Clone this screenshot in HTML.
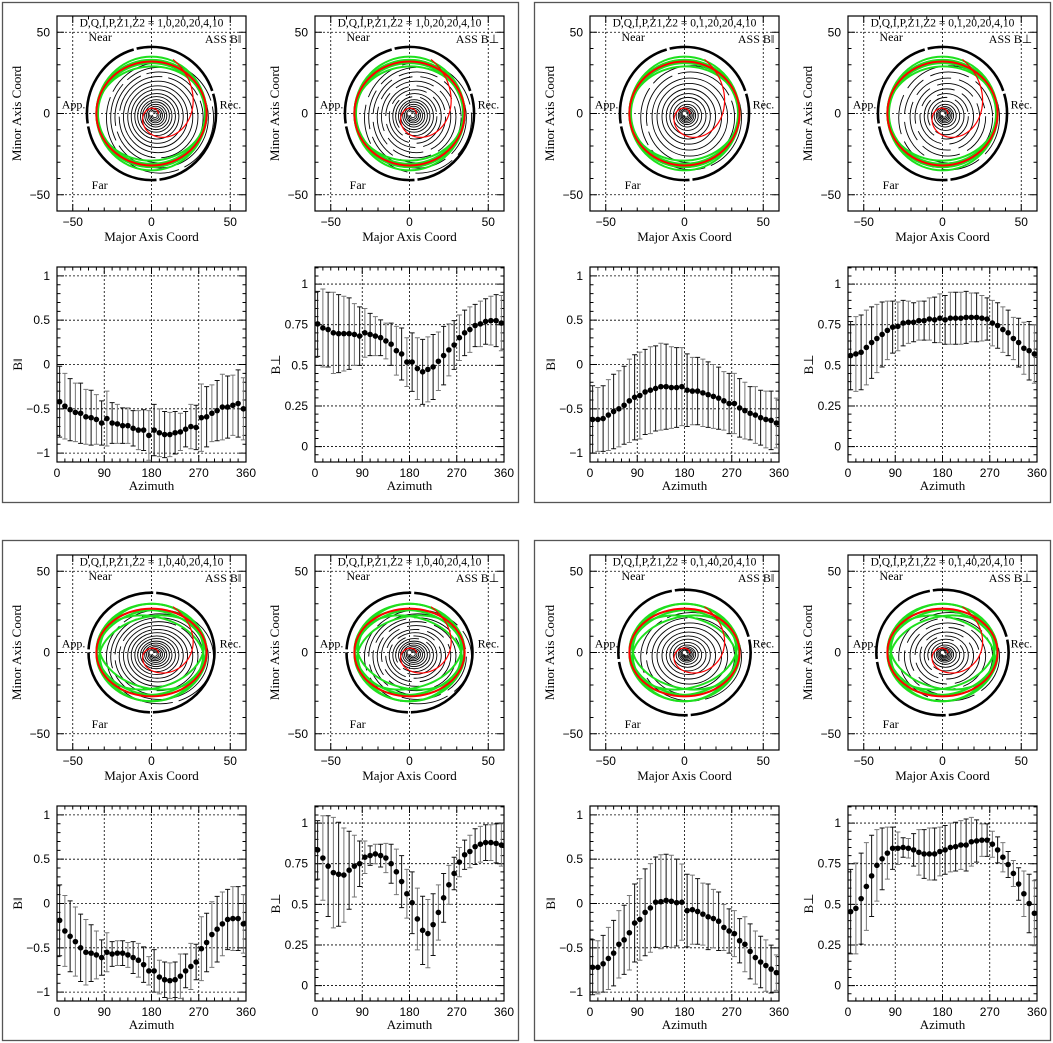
<!DOCTYPE html>
<html><head><meta charset="utf-8"><style>
html,body{margin:0;padding:0;background:#fff}
svg{display:block}
text{font-family:"Liberation Serif",serif;fill:#000}
.tk{font-family:"Liberation Sans",sans-serif;font-size:12px}
</style></head><body>
<svg id="fig" width="1053" height="1043" viewBox="0 0 1053 1043" xmlns="http://www.w3.org/2000/svg"></svg>
<script>
const azimuths=[5,15,25,35,45,55,65,75,85,95,105,115,125,135,145,155,165,175,185,195,205,215,225,235,245,255,265,275,285,295,305,315,325,335,345,355];
const serA=[-0.42,-0.47,-0.51,-0.54,-0.55,-0.59,-0.60,-0.62,-0.66,-0.61,-0.66,-0.67,-0.69,-0.69,-0.72,-0.74,-0.74,-0.80,-0.74,-0.77,-0.79,-0.79,-0.77,-0.76,-0.73,-0.70,-0.71,-0.60,-0.59,-0.55,-0.52,-0.48,-0.48,-0.46,-0.44,-0.50];
const errA=[0.40,0.37,0.35,0.33,0.34,0.31,0.31,0.28,0.25,0.31,0.23,0.22,0.2,0.2,0.2,0.22,0.23,0.28,0.29,0.27,0.26,0.25,0.24,0.21,0.2,0.25,0.25,0.38,0.34,0.32,0.34,0.37,0.35,0.34,0.38,0.35];
const serB=[0.755,0.73,0.72,0.70,0.695,0.695,0.695,0.69,0.68,0.70,0.69,0.68,0.67,0.65,0.63,0.59,0.57,0.52,0.52,0.48,0.46,0.475,0.49,0.525,0.56,0.595,0.625,0.67,0.70,0.72,0.745,0.755,0.77,0.775,0.775,0.76];
const errB=[0.2,0.24,0.23,0.25,0.24,0.23,0.22,0.19,0.18,0.15,0.13,0.12,0.11,0.11,0.13,0.15,0.16,0.15,0.18,0.19,0.2,0.2,0.2,0.18,0.18,0.16,0.15,0.14,0.14,0.14,0.13,0.14,0.14,0.15,0.16,0.17];
const serC=[-0.62,-0.62,-0.61,-0.57,-0.53,-0.50,-0.46,-0.41,-0.37,-0.35,-0.31,-0.29,-0.27,-0.25,-0.25,-0.26,-0.26,-0.25,-0.29,-0.30,-0.30,-0.32,-0.34,-0.36,-0.38,-0.41,-0.44,-0.44,-0.49,-0.52,-0.55,-0.57,-0.60,-0.62,-0.63,-0.66];
const errC=[0.38,0.36,0.37,0.40,0.42,0.43,0.44,0.47,0.48,0.49,0.48,0.49,0.48,0.49,0.48,0.46,0.45,0.44,0.41,0.38,0.38,0.38,0.37,0.36,0.35,0.33,0.34,0.34,0.33,0.32,0.30,0.32,0.31,0.32,0.33,0.28];
const serD=[0.56,0.57,0.58,0.61,0.64,0.665,0.69,0.715,0.735,0.74,0.76,0.765,0.765,0.775,0.775,0.785,0.78,0.79,0.78,0.79,0.79,0.79,0.795,0.795,0.795,0.79,0.785,0.76,0.745,0.72,0.70,0.665,0.64,0.605,0.59,0.57];
const errD=[0.21,0.23,0.23,0.23,0.22,0.21,0.2,0.18,0.16,0.15,0.14,0.13,0.12,0.12,0.12,0.13,0.14,0.15,0.15,0.16,0.16,0.16,0.16,0.15,0.15,0.14,0.13,0.14,0.14,0.14,0.14,0.13,0.15,0.16,0.18,0.18];
const serE=[-0.19,-0.31,-0.37,-0.43,-0.50,-0.55,-0.56,-0.58,-0.61,-0.55,-0.57,-0.56,-0.56,-0.58,-0.61,-0.64,-0.69,-0.76,-0.76,-0.83,-0.86,-0.87,-0.86,-0.82,-0.76,-0.71,-0.66,-0.51,-0.44,-0.35,-0.29,-0.23,-0.18,-0.17,-0.17,-0.23];
const errE=[0.4,0.4,0.4,0.39,0.38,0.37,0.32,0.27,0.2,0.22,0.14,0.14,0.14,0.14,0.18,0.19,0.2,0.16,0.24,0.19,0.2,0.2,0.2,0.25,0.19,0.26,0.2,0.36,0.33,0.37,0.37,0.36,0.34,0.36,0.36,0.33];
const serF=[0.835,0.785,0.735,0.695,0.685,0.68,0.71,0.735,0.75,0.79,0.80,0.81,0.80,0.785,0.75,0.70,0.64,0.565,0.51,0.41,0.34,0.32,0.375,0.45,0.54,0.62,0.69,0.76,0.805,0.825,0.855,0.87,0.88,0.88,0.875,0.865];
const errF=[0.18,0.26,0.31,0.34,0.32,0.29,0.24,0.19,0.14,0.1,0.06,0.06,0.07,0.09,0.12,0.14,0.16,0.15,0.19,0.19,0.21,0.21,0.19,0.17,0.15,0.12,0.1,0.09,0.09,0.1,0.11,0.11,0.11,0.11,0.12,0.13];
const serG=[-0.72,-0.72,-0.68,-0.62,-0.56,-0.46,-0.41,-0.33,-0.22,-0.18,-0.10,-0.05,0.015,0.02,0.035,0.025,0.01,0.015,-0.08,-0.07,-0.09,-0.12,-0.15,-0.17,-0.20,-0.27,-0.31,-0.34,-0.42,-0.46,-0.54,-0.61,-0.66,-0.70,-0.74,-0.78];
const errG=[0.31,0.30,0.32,0.35,0.37,0.38,0.39,0.42,0.44,0.46,0.49,0.50,0.51,0.53,0.52,0.52,0.49,0.43,0.41,0.39,0.37,0.35,0.37,0.33,0.33,0.26,0.25,0.26,0.25,0.31,0.31,0.3,0.29,0.29,0.27,0.2];
const serH=[0.455,0.475,0.535,0.61,0.675,0.74,0.78,0.815,0.845,0.845,0.85,0.845,0.835,0.82,0.81,0.81,0.81,0.825,0.835,0.85,0.855,0.865,0.865,0.885,0.89,0.895,0.895,0.87,0.835,0.79,0.745,0.69,0.625,0.565,0.505,0.445];
const errH=[0.26,0.28,0.28,0.27,0.25,0.22,0.19,0.16,0.13,0.1,0.06,0.06,0.1,0.14,0.15,0.16,0.16,0.15,0.15,0.15,0.15,0.15,0.16,0.15,0.13,0.1,0.1,0.08,0.08,0.09,0.08,0.08,0.1,0.14,0.18,0.2];
const titles=["D,Q,I,P,Z1,Z2 = 1,0,20,20,4,10","D,Q,I,P,Z1,Z2 = 0,1,20,20,4,10","D,Q,I,P,Z1,Z2 = 1,0,40,20,4,10","D,Q,I,P,Z1,Z2 = 0,1,40,20,4,10"];
const azTicks=[0,90,180,270,360];
const parTicks=[-1,-0.5,0,0.5,1];
const perpTicks=[0,0.25,0.5,0.75,1];
const coordTicks=[-50,0,50];

const NS="http://www.w3.org/2000/svg";
const svg=document.getElementById('fig');
function el(tag,attrs,parent,txt){const e=document.createElementNS(NS,tag);for(const k in attrs)e.setAttribute(k,attrs[k]);if(txt!==undefined)e.textContent=txt;(parent||svg).appendChild(e);return e;}

const FW=189,FH=195;
function frame(g,x0,y0,xmin,xmax,ymin,ymax,xmaj,xmin2,ymaj,ymin2,xt,yt,yfmt){
  const X=v=>x0+(v-xmin)/(xmax-xmin)*FW, Y=v=>y0+FH-(v-ymin)/(ymax-ymin)*FH;
  xt.forEach(v=>{if(v>xmin&&v<xmax){const l=el('line',{x1:X(v),x2:X(v),y1:y0,y2:y0+FH,stroke:'#000','stroke-width':0.8,'stroke-dasharray':'2,2'},g);}});
  yt.forEach(v=>{if(v>ymin&&v<ymax){const l=el('line',{x1:x0,x2:x0+FW,y1:Y(v),y2:Y(v),stroke:'#000','stroke-width':0.8,'stroke-dasharray':'2,2'},g);}});
  let d='';
  for(let v=Math.ceil(xmin/xmin2)*xmin2;v<=xmax+1e-9;v+=xmin2){const len=Math.abs(v/xmaj-Math.round(v/xmaj))<1e-6?7:3.5;const px=X(v);d+=`M${px},${y0+FH}v${-len}M${px},${y0}v${len}`;}
  for(let v=Math.ceil(ymin/ymin2-1e-9)*ymin2;v<=ymax+1e-9;v+=ymin2){const len=Math.abs(v/ymaj-Math.round(v/ymaj))<1e-6?7:3.5;const py=Y(v);d+=`M${x0},${py}h${len}M${x0+FW},${py}h${-len}`;}
  el('path',{d,stroke:'#000','stroke-width':1,fill:'none'},g);
  const fr=el('rect',{x:x0,y:y0,width:FW,height:FH,fill:'none',stroke:'#000','stroke-width':1.2},g);
  
  xt.forEach(v=>{const t=el('text',{x:X(v),y:y0+FH+15,'text-anchor':'middle',class:'tk'},g,v<0?'\u2212'+(-v):String(v));});
  yt.forEach(v=>{const s=yfmt(v);const t=el('text',{x:x0-7,y:Y(v)+4,'text-anchor':'end',class:'tk'},g,s);});
  return {X,Y};
}
const fmtN=v=>v<0?'\u2212'+(-v):String(v);

function azPlot(g,x0,y0,vals,errs,perp){
  const ymin=perp?-0.095:-1.1, ymax=perp?1.105:1.1;
  const ax=frame(g,x0,y0,0,360,ymin,ymax,90,15,perp?0.25:0.5,perp?0.05:0.1,azTicks,perp?perpTicks:parTicks,fmtN);
  const t=el('text',{x:x0+FW/2,y:y0+FH+28,'text-anchor':'middle','font-size':'13px'},g,'Azimuth');
  
  const yl=el('text',{transform:`translate(${x0-35},${y0+FH/2}) rotate(-90)`,'text-anchor':'middle','font-size':'13px'},g,perp?'B\u22A5':'B\u2016');
  
  vals.forEach((v,i)=>{
    const px=ax.X(azimuths[i]);
    const lo=Math.max(ymin,v-errs[i]), hi=Math.min(ymax,v+errs[i]);
    const bar=el('path',{d:`M${px},${ax.Y(lo)}V${ax.Y(hi)}M${px-2.5},${ax.Y(lo)}h5M${px-2.5},${ax.Y(hi)}h5`,stroke:i%2?'#777':'#111','stroke-width':1,fill:'none'},g);
    
    const c=el('circle',{cx:px,cy:ax.Y(v),r:2.8,fill:'#000'},g);
    
  });
}

function contourPlot(g,x0,y0,title,perp,incl40,mode){
  const ax=frame(g,x0,y0,-60,60,-60,60,50,10,50,10,coordTicks,coordTicks,fmtN);
  const sx=FW/120, sy=FH/120;
  const U=u=>ax.X(u), V=v=>ax.Y(v);
  const xt=el('text',{x:x0+FW/2,y:y0+FH+30,'text-anchor':'middle','font-size':'13px'},g,'Major Axis Coord');
  
  const yt=el('text',{transform:`translate(${x0-36},${y0+FH/2}) rotate(-90)`,'text-anchor':'middle','font-size':'13px'},g,'Minor Axis Coord');
  
  const cg=el('g',{fill:'none'},g);
  
  const cx=mode?1:2, cy=-1;
  const ry=incl40?0.85:1;
  const outerR=incl40?(mode?42:40):41;
  el('ellipse',{cx:U(0),cy:V(0),rx:outerR*sx,ry:outerR*(incl40?0.92:1)*sy,stroke:'#000','stroke-width':2.6,'stroke-dasharray':'95,3'},cg);
  const radii=mode===0?[1.5,2.5,3.5,4.5,5.7,7,8.5,10,12,14,16.5,19,22,25,28,31,34]:[1.2,2,2.8,3.6,4.5,5.5,7,9,11.5,14,17,20.5,24,28,32];
  radii.forEach((r,i)=>{
    const off=r*0.1;
    el('ellipse',{cx:U(cx+off),cy:V(cy-off*0.5),rx:r*sx,ry:r*ry*sy,stroke:'#000','stroke-width':0.9,'stroke-dasharray':perp&&r>10?'40,8':(r>24?'60,6':'none')},cg);
  });
  const gg=el('g',{fill:'none',stroke:'#1ee01e','stroke-width':2},g);
  
  const gspecs=incl40?[[35,30,0],[35,26,8],[35,26,-8],[34,22,14],[34,22,-14],[33,30,4]]:[[35,35,0],[35,33,5],[35,33,-5],[34,31,0],[35,29,3]];
  gspecs.forEach(s=>el('ellipse',{cx:U(0),cy:V(0),rx:s[0]*sx,ry:s[1]*sy,transform:`rotate(${-s[2]},${U(0)},${V(0)})`},gg));
  const rg=el('g',{fill:'none',stroke:'#f00','stroke-width':1.2},g);
  
  el('ellipse',{cx:U(0),cy:V(0),rx:35*sx,ry:(incl40?27:32)*sy,'stroke-width':2},rg);
  let d='';
  for(let k=0;k<=120;k++){const t=k/120*2.3*Math.PI;const r=2.5*Math.exp(0.37*t);const a=t+0.3;d+=(k?'L':'M')+U(cx+r*Math.cos(a))+','+V(cy+r*Math.sin(a)*ry);}
  el('path',{d},rg);
  el('circle',{cx:U(0),cy:V(0),r:1.8,fill:'#fff',stroke:'none'},g);
  const lab=(txt,u,v,anchor,name,fs)=>{const t=el('text',{x:U(u),y:V(v),'text-anchor':anchor,'font-size':(fs||12)+'px'},g,txt);};
  lab(title,0,53.5,'middle','plot-title',11.5);
  lab('Near',-40,44.5,'start','near-label');
  lab('Far',-38,-46.5,'start','far-label');
  lab('App.',-57,3,'start','app-label');
  lab('Rec.',57,3,'end','rec-label');
  lab(perp?'ASS B\u22A5':'ASS B\u2016',57,43.5,'end','component-label');
}

const panels=[{dx:0,dy:0,s:[serA,errA,serB,errB],m:0,i:0},{dx:533,dy:0,s:[serC,errC,serD,errD],m:1,i:0},{dx:0,dy:539,s:[serE,errE,serF,errF],m:0,i:1},{dx:533,dy:539,s:[serG,errG,serH,errH],m:1,i:1}];
panels.forEach((p,k)=>{
  const g=el('g',{});
  
  
  const b=el('rect',{x:2.5+p.dx-(p.dx?1:0),y:2.5+p.dy-(p.dy?1:0),width:516,height:500,fill:'none',stroke:'#555','stroke-width':1.3},g);
  
  contourPlot(g,57+p.dx,16+p.dy,titles[k],false,p.i,p.m);
  contourPlot(g,315+p.dx,16+p.dy,titles[k],true,p.i,p.m);
  azPlot(g,57+p.dx,267+p.dy,p.s[0],p.s[1],false);
  azPlot(g,315+p.dx,267+p.dy,p.s[2],p.s[3],true);
});
</script>
</body></html>
